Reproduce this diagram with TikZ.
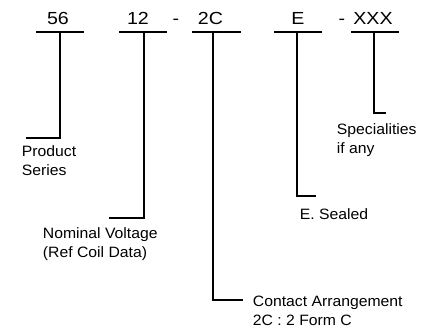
\documentclass[tikz,border=0pt]{standalone}
\usepackage{fontspec}
\setmainfont{Liberation Sans}
\newfontfamily\codefont[FakeStretch=1.12]{Liberation Sans}
\newfontfamily\lblfont[FakeStretch=1.05]{Liberation Sans}
\begin{document}
\begin{tikzpicture}[x=1pt, y=-1pt, line width=1.8pt,
  code/.style={anchor=base, inner sep=0pt, font=\codefont\fontsize{17.5}{21}\selectfont},
  lbl/.style={anchor=base west, inner sep=0pt, align=left, font=\lblfont\fontsize{15}{18.7}\selectfont}]
\useasboundingbox (0,0) rectangle (433,329);
% part number
\node[code] (c56) at (58,25) {56};
\node[code] (c12) at (138,25) {12};
\node[code] (dash1) at (176,25) {-};
\node[code] (c2c) at (210.5,25) {2C};
\node[code] (ce) at (298,25) {E};
\node[code] (dash2) at (342,25) {-};
\node[code] (cxxx) at (373,25) {XXX};
% bars under the fields
\draw (36,32) -- (84,32);
\draw (119,32) -- (167,32);
\draw (192,32) -- (241,32);
\draw (274,32) -- (322,32);
\draw (351,32) -- (399,32);
\coordinate (t1) at (60.3,32);
\coordinate (t2) at (144,32);
\coordinate (t3) at (213.3,32);
\coordinate (t4) at (296.7,32);
\coordinate (t5) at (374.3,32);
\coordinate (e1) at (26,138);
\coordinate (e2) at (109,218);
\coordinate (e3) at (243,300);
\coordinate (e4) at (316,196);
\coordinate (e5) at (386,113);
\draw (t1) |- (e1);
\draw (t2) |- (e2);
\draw (t3) |- (e3);
\draw (t4) |- (e4);
\draw (t5) |- (e5);
% meanings (base = last line)
\node[lbl] (ser) at (21,175) {Product\\Series};
\node[lbl] (volt) at (42,257) {Nominal Voltage\\(Ref Coil Data)};
\node[lbl] (cont) at (252,325) {Contact Arrangement\\2C : 2 Form C};
\node[lbl] (seal) at (299,219) {E. Sealed};
\node[lbl] (spec) at (336,153.5) {Specialities\\if any};
\end{tikzpicture}
\end{document}
